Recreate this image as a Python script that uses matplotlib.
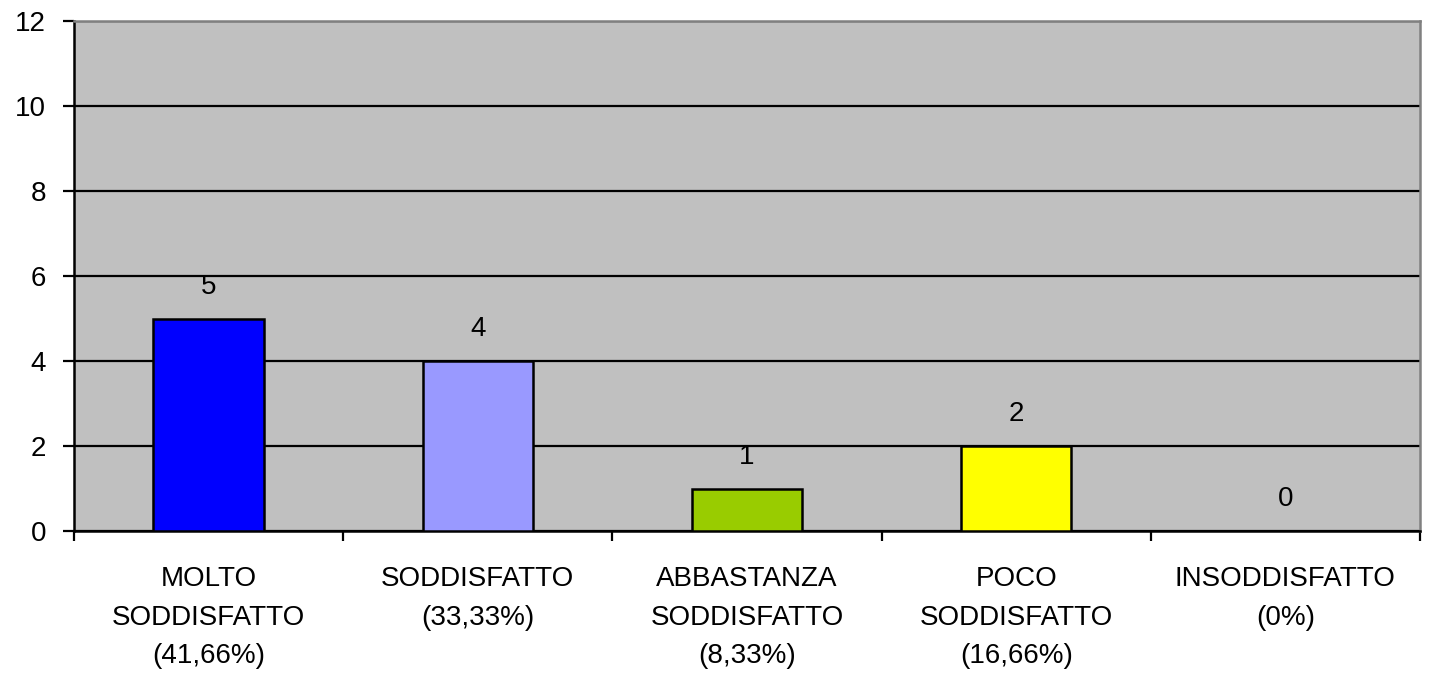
import matplotlib
matplotlib.use("Agg")
import matplotlib.pyplot as plt
import numpy as np

categories = [
    "MOLTO\nSODDISFATTO\n(41,66%)",
    "SODDISFATTO\n(33,33%)",
    "ABBASTANZA\nSODDISFATTO\n(8,33%)",
    "POCO\nSODDISFATTO\n(16,66%)",
    "INSODDISFATTO\n(0%)",
]
values = [5, 4, 1, 2, 0]
colors = ["#0000FF", "#9999FF", "#99CC00", "#FFFF00", "#FFFFFF"]
yticks = [0, 2, 4, 6, 8, 10, 12]

plt.rcParams["font.family"] = ["Liberation Sans", "DejaVu Sans"]

W, H = 1431, 678
fig = plt.figure(figsize=(W / 100, H / 100), dpi=100)
ax = fig.add_axes([74 / W, 1 - 531 / H, (1420 - 74) / W, (531 - 21) / H])
ax.set_facecolor("#C0C0C0")

x = np.arange(len(values))
bars = ax.bar(x, values, width=0.41, color=colors, edgecolor="black",
              linewidth=1.8, zorder=3)
for b, v in zip(bars, values):
    if v == 0:
        b.set_visible(False)
    ax.annotate(str(v), (b.get_x() + b.get_width() / 2, v),
                xytext=(0, 23), textcoords="offset points",
                ha="center", va="center", fontsize=20)

ax.set_xlim(-0.5, len(values) - 0.5)
ax.set_ylim(0, 12)
ax.set_yticks(yticks)
ax.set_yticklabels([str(t) for t in yticks], fontsize=20)
ax.yaxis.grid(True, color="black", linewidth=1.6, zorder=1)
ax.set_axisbelow(True)

ax.set_xticks(x)
ax.set_xticklabels(categories, fontsize=20, linespacing=1.64)
ax.set_xticks(np.arange(len(values) + 1) - 0.5, minor=True)
ax.tick_params(axis="x", which="major", length=0, pad=25)
ax.tick_params(axis="x", which="minor", length=7, width=1.6, direction="out")
ax.tick_params(axis="y", length=8, width=1.6, direction="out", pad=12)

for side in ("left", "bottom"):
    ax.spines[side].set_color("black")
    ax.spines[side].set_linewidth(1.8)
for side in ("top", "right"):
    ax.spines[side].set_color("#808080")
    ax.spines[side].set_linewidth(1.8)

fig.savefig("out.png", dpi=100, facecolor="white")
